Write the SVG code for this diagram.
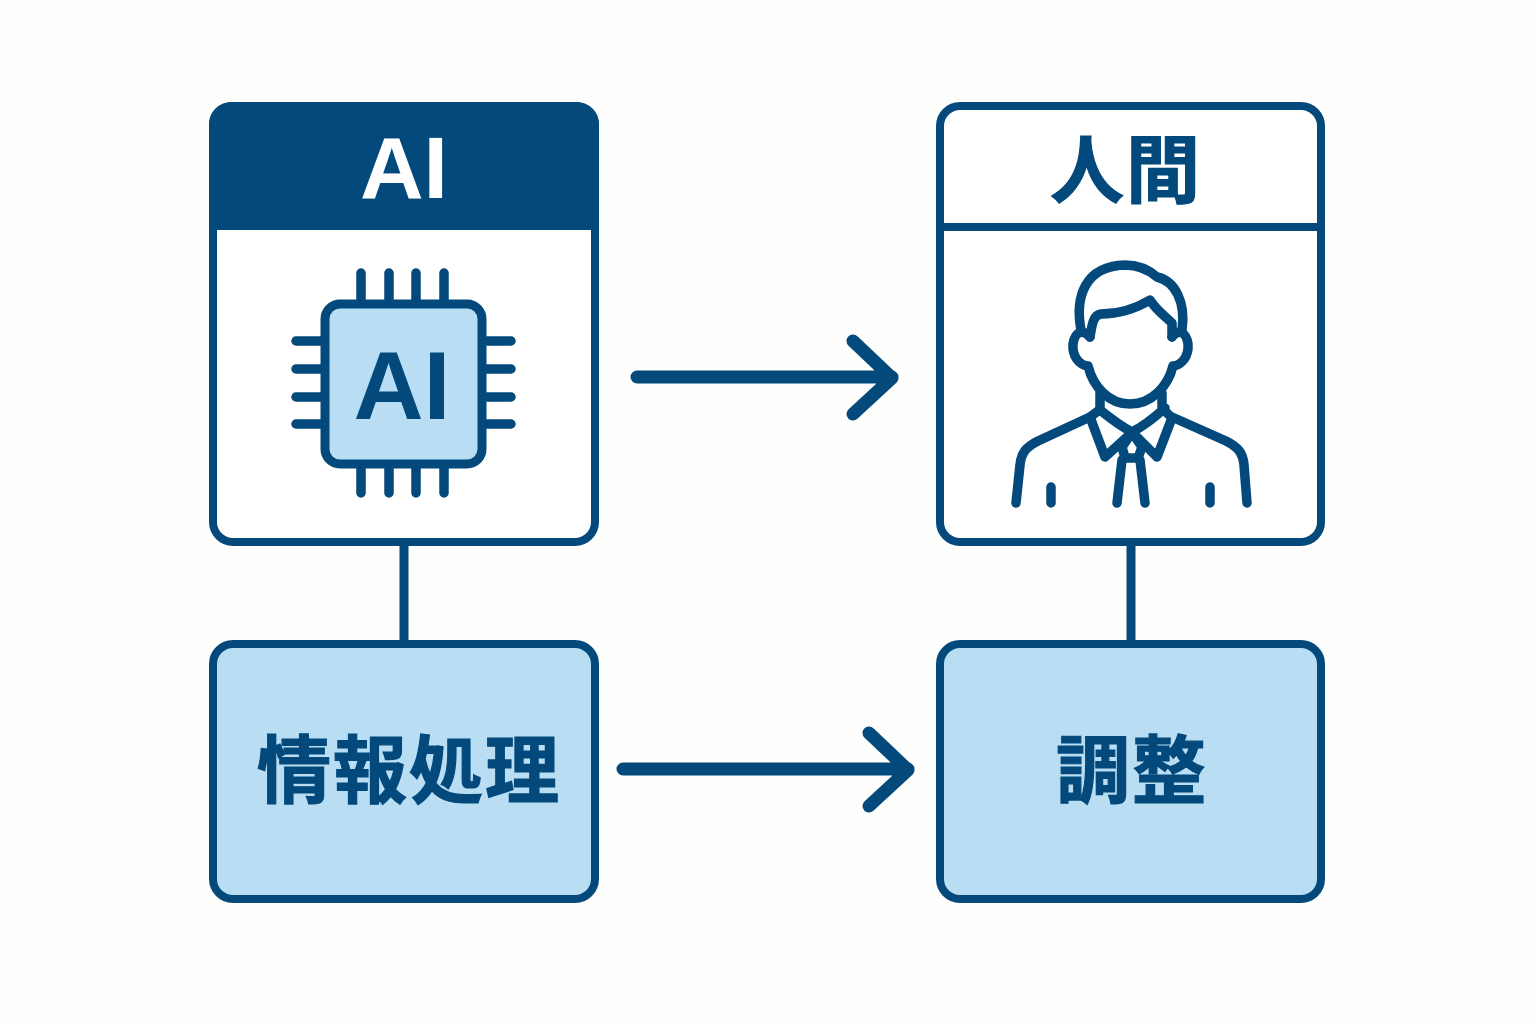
<svg xmlns="http://www.w3.org/2000/svg" width="1536" height="1024" viewBox="0 0 1536 1024">
<style>
.l{fill:none;stroke:#03497c;stroke-width:9.5;stroke-linecap:round;stroke-linejoin:round}
.b{fill:#fff;stroke:#03497c;stroke-width:8}
.f{fill:#b9def4;stroke:#03497c;stroke-width:8}
.t{font-family:"Noto Sans CJK JP","Noto Sans",sans-serif;font-weight:700;text-anchor:middle;fill:#03497c;stroke:#03497c;stroke-width:1.2;letter-spacing:2px}
.e{font-family:"Liberation Sans",Arial,sans-serif;font-weight:700;text-anchor:middle;fill:#03497c}
.c{fill:none;stroke:#03497c;stroke-width:9}
.a{fill:none;stroke:#03497c;stroke-width:13;stroke-linecap:round;stroke-linejoin:round}
</style>
<rect width="1536" height="1024" fill="#fefefd"/>
<g id="connectors">
<path class="c" d="M404 543V644M1131 543V644"/>
<path class="a" d="M637 377H892M853 341L892 378L853 414"/>
<path class="a" d="M623 769H908M869 733L908 770L869 806"/>
</g>
<g id="ai">
<rect class="b" x="213" y="106" width="382" height="436" rx="20"/>
<path d="M209 230V124A22 22 0 0 1 231 102H577A22 22 0 0 1 599 124V230Z" fill="#03497c"/>
<text class="e" x="404" y="198" font-size="88" style="fill:#fff">AI</text>
<path class="l" d="M361 302V273M389 302V273M416 302V273M444 302V273M361 493V464M389 493V464M416 493V464M444 493V464M323 341H296M323 369H296M323 397H296M323 424H296M484 341H511M484 369H511M484 397H511M484 424H511"/>
<rect class="f" x="325" y="304" width="157" height="160" rx="15" style="stroke-width:9"/>
<text class="e" x="402" y="419" font-size="97">AI</text>
</g>
<g id="human">
<rect class="b" x="940" y="106" width="381" height="436" rx="20"/>
<path class="c" d="M940 227H1321" style="stroke-width:8"/>
<text class="t" x="1126" y="197" font-size="74">人間</text>
<g class="l">
<path d="M1081 330C1075 298 1084 266 1125 265C1139 265 1149 270 1157 277C1175 281 1186 302 1182 330"/>
<path d="M1090 337C1092 325 1093 315 1101 314C1120 314 1135 309 1150 300C1156 310 1165 316 1172 323V337"/>
<path d="M1090 337C1083 329 1075 331 1073 344C1072 356 1079 365 1088 366C1093 386 1108 404 1130 404C1152 404 1168 386 1173 366C1182 365 1189 356 1188 344C1186 331 1178 329 1172 337"/>
<path d="M1100 393V407M1162 393V407"/>
<path d="M1100 410C1110 418 1120 426 1132 432C1144 426 1155 417 1165 408"/>
<path d="M1098 411L1090 417L1105 457L1127 437M1164 410L1172 418L1157 457L1137 437"/>
<path d="M1090 417L1038 441C1026 447 1021 453 1020 465L1016 503M1172 417L1226 441C1238 447 1243 453 1244 465L1247 503"/>
<path d="M1132 432L1122 447L1125 458H1138L1142 447Z"/>
<path d="M1122 460L1117 503M1140 460L1145 503M1051 487V503M1210 487V503"/>
</g>
</g>
<g id="proc">
<rect class="f" x="213" y="644" width="382" height="255" rx="20"/>
<text class="t" x="409" y="797" font-size="74">情報処理</text>
</g>
<g id="adj">
<rect class="f" x="940" y="644" width="381" height="255" rx="20"/>
<text class="t" x="1132" y="797" font-size="74">調整</text>
</g>
</svg>
